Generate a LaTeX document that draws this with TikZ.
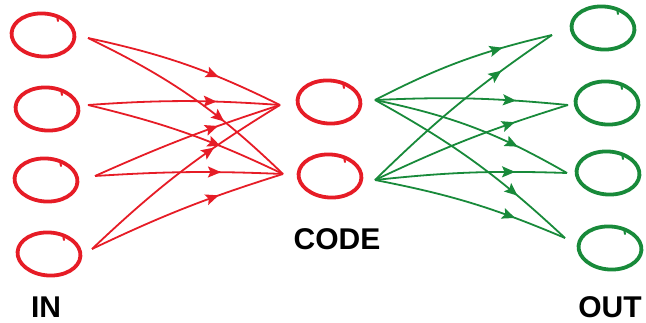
\documentclass[tikz,border=0pt]{standalone}
\usepackage{fontspec}
\setmainfont{Liberation Sans}
\usetikzlibrary{shapes.geometric,arrows.meta,decorations.markings}

\definecolor{penred}{RGB}{230,28,38}
\definecolor{pengreen}{RGB}{24,138,58}

\tikzset{
  unit/.style={ellipse, draw, line width=3.8pt, minimum width=63pt, minimum height=43pt, inner sep=0pt, rotate=-4},
  redunit/.style={unit, draw=penred},
  greenunit/.style={unit, draw=pengreen},
  headtip/.tip={Stealth[length=13pt,width=11pt,inset=2.5pt]},
  link/.style={line width=1.8pt, decoration={markings, mark=at position #1 with {\arrow{headtip}}}, postaction={decorate}},
  redlink/.style={link=0.67, draw=penred, penred},
  greenlink/.style={link=0.73, draw=pengreen, pengreen},
  caption/.style={font=\bfseries\fontsize{30}{30}\selectfont, inner sep=0pt, text depth=0pt, anchor=base},
}

\begin{document}
\begin{tikzpicture}[x=1pt, y=-1pt]
  \useasboundingbox (0,0) rectangle (646,323);

  % input layer
  \node[redunit] (in1) at (43,35) {};
  \node[redunit] (in2) at (47,109) {};
  \node[redunit] (in3) at (46,180) {};
  \node[redunit] (in4) at (49,254) {};

  % code layer
  \node[redunit] (code1) at (329,102) {};
  \node[redunit] (code2) at (330,176) {};

  % output layer
  \node[greenunit] (out1) at (603,28) {};
  \node[greenunit] (out2) at (607,103) {};
  \node[greenunit] (out3) at (608,173) {};
  \node[greenunit] (out4) at (610,248) {};

  % pen overlap where each ring was closed
  \foreach \n/\c in {in1/penred,in2/penred,in3/penred,in4/penred,code1/penred,code2/penred,
                     out1/pengreen,out2/pengreen,out3/pengreen,out4/pengreen}
    \draw[\c, line width=2pt, line cap=round] ([shift={(9,-20)}]\n.center) .. controls ([shift={(14,-20)}]\n.center) .. ([shift={(15,-14)}]\n.center);

  % connector end points
  \coordinate (in1-o) at (88,38);
  \coordinate (in2-o) at (88,105);
  \coordinate (in3-o) at (95,176);
  \coordinate (in4-o) at (92,249);
  \coordinate (code1-i) at (280,105);
  \coordinate (code2-i) at (283,174);
  \coordinate (code1-o) at (375,100);
  \coordinate (code2-o) at (375,180);
  \coordinate (out1-i) at (552,35);
  \coordinate (out2-i) at (568,105);
  \coordinate (out3-i) at (567,173);
  \coordinate (out4-i) at (565,238);

  % encoder connections
  \draw[redlink] (in1-o) to[bend left=7] (code1-i);
  \draw[redlink] (in1-o) to[bend left=9] (code2-i);
  \draw[redlink] (in2-o) to[bend left=4] (code1-i);
  \draw[redlink] (in2-o) to[bend left=6] (code2-i);
  \draw[redlink] (in3-o) to[bend left=3] (code1-i);
  \draw[redlink] (in3-o) to[bend left=3] (code2-i);
  \draw[redlink] (in4-o) to[bend left=6] (code1-i);
  \draw[redlink] (in4-o) to[bend left=4] (code2-i);

  % decoder connections
  \draw[greenlink] (code1-o) to[bend left=7] (out1-i);
  \draw[greenlink] (code2-o) to[bend left=5] (out1-i);
  \draw[greenlink] (code1-o) to[bend left=4] (out2-i);
  \draw[greenlink] (code2-o) to[bend left=4] (out2-i);
  \draw[greenlink] (code1-o) to[bend left=9] (out3-i);
  \draw[greenlink] (code2-o) to[bend left=4] (out3-i);
  \draw[greenlink] (code1-o) to[bend left=7] (out4-i);
  \draw[greenlink] (code2-o) to[bend left=6] (out4-i);

  % layer captions
  \node[caption] (lin) at (46,318) {IN};
  \node[caption] (lcode) at (337,250) {CODE};
  \node[caption] (lout) at (610,318) {OUT};
\end{tikzpicture}
\end{document}
